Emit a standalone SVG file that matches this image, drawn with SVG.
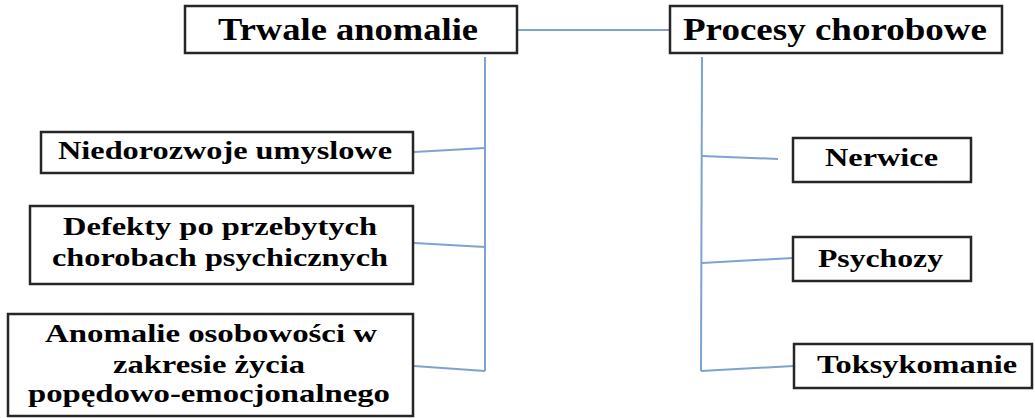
<svg xmlns="http://www.w3.org/2000/svg" width="1035" height="418" viewBox="0 0 1035 418">
<style>
.box{fill:#fff;stroke:#262626;stroke-width:2.5}
.t{font-family:'Liberation Serif','Times New Roman','DejaVu Serif',serif;font-weight:bold;fill:#000}
.h{font-size:31px}
.b{font-size:26px}
.c{fill:none;stroke:#7fa2cf;stroke-width:2}
</style>
<rect width="1035" height="418" fill="#fff"/>
<g id="connectors">
<line class="c" x1="517" y1="30" x2="670" y2="30" stroke="#6a93c8"/>
<polyline class="c" points="485,57 485,371"/>
<polyline class="c" points="702,57 701,371"/>
<line class="c" x1="414" y1="152" x2="485" y2="148"/>
<line class="c" x1="414" y1="243" x2="485" y2="247"/>
<line class="c" x1="414" y1="366" x2="485" y2="371"/>
<line class="c" x1="702" y1="156" x2="778" y2="159"/>
<line class="c" x1="702" y1="263" x2="793" y2="258"/>
<line class="c" x1="701" y1="371" x2="794" y2="366"/>
</g>
<g id="n-trwale">
<rect class="box" x="185" y="6" width="332" height="47"/>
<text class="t h" font-family="Liberation Serif" x="218" y="40" textLength="260" lengthAdjust="spacingAndGlyphs">Trwale anomalie</text>
</g>
<g id="n-procesy">
<rect class="box" x="670" y="6" width="332" height="47"/>
<text class="t h" font-family="Liberation Serif" x="683" y="40" textLength="304" lengthAdjust="spacingAndGlyphs">Procesy chorobowe</text>
</g>
<g id="n-niedorozwoje">
<rect class="box" x="41" y="132" width="372" height="41"/>
<text class="t b" font-family="Liberation Serif" x="58" y="159" textLength="334" lengthAdjust="spacingAndGlyphs">Niedorozwoje umyslowe</text>
</g>
<g id="n-defekty">
<rect class="box" x="30" y="206" width="383" height="78"/>
<text class="t b" font-family="Liberation Serif" x="63" y="235" textLength="314" lengthAdjust="spacingAndGlyphs">Defekty po przebytych</text>
<text class="t b" font-family="Liberation Serif" x="52" y="266" textLength="336" lengthAdjust="spacingAndGlyphs">chorobach psychicznych</text>
</g>
<g id="n-anomalie">
<rect class="box" x="8" y="314" width="405" height="102"/>
<text class="t b" font-family="Liberation Serif" x="45" y="342" textLength="332" lengthAdjust="spacingAndGlyphs">Anomalie osobowości w</text>
<text class="t b" font-family="Liberation Serif" x="113" y="373" textLength="192" lengthAdjust="spacingAndGlyphs">zakresie życia</text>
<text class="t b" font-family="Liberation Serif" x="28" y="402" textLength="362" lengthAdjust="spacingAndGlyphs">popędowo-emocjonalnego</text>
</g>
<g id="n-nerwice">
<rect class="box" x="793" y="138" width="178" height="44"/>
<text class="t b" font-family="Liberation Serif" x="825" y="166" textLength="113" lengthAdjust="spacingAndGlyphs">Nerwice</text>
</g>
<g id="n-psychozy">
<rect class="box" x="793" y="237" width="178" height="44"/>
<text class="t b" font-family="Liberation Serif" x="818" y="267" textLength="125" lengthAdjust="spacingAndGlyphs">Psychozy</text>
</g>
<g id="n-toksykomanie">
<rect class="box" x="794" y="344" width="238" height="44"/>
<text class="t b" font-family="Liberation Serif" x="817" y="373" textLength="200" lengthAdjust="spacingAndGlyphs">Toksykomanie</text>
</g>
</svg>
